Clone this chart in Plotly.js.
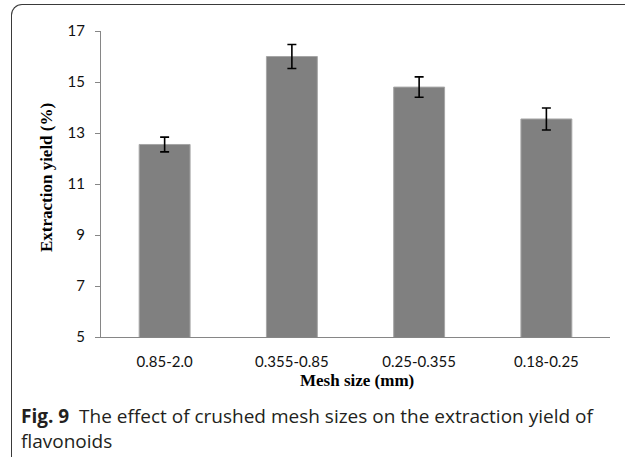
<!DOCTYPE html>
<html>
<head>
<meta charset="utf-8">
<script src="https://cdn.plot.ly/plotly-3.0.1.min.js"></script>
<style>
html,body{margin:0;padding:0;background:#fff;}
#wrap{position:relative;width:625px;height:457px;overflow:hidden;}
#frame{position:absolute;left:11px;top:3.5px;width:700px;height:500px;border-top:1.5px solid #3a3a3a;border-left:1.5px solid #3a3a3a;border-top-left-radius:11px;pointer-events:none;}
#chart{position:absolute;left:0;top:0;width:625px;height:457px;}
</style>
</head>
<body>
<div id="wrap">
<div id="chart"></div>
<div id="frame"></div>
</div>
<script>
const categories = ["0.85-2.0", "0.355-0.85", "0.25-0.355", "0.18-0.25"];
const yieldValues = [12.55, 16.0, 14.8, 13.55];
const yieldErrors = [0.29, 0.47, 0.40, 0.43];
const yTicks = [5, 7, 9, 11, 13, 15, 17];

const L = 101, R = 610.5, T = 31, B = 337;
const px = x => (x - L) / (R - L);
const py = y => (B - y) / (B - T);

const trace = {
  type: 'bar',
  x: categories,
  y: yieldValues,
  marker: {color: '#808080', line: {color: '#a6a6a6', width: 1}},
  error_y: {type: 'data', array: yieldErrors, visible: true, color: '#000000', thickness: 1.6, width: 4.5},
  hoverinfo: 'none'
};

const layout = {
  width: 625, height: 457,
  margin: {l: L, r: 625 - R, t: T, b: 457 - B, pad: 0},
  paper_bgcolor: '#ffffff', plot_bgcolor: '#ffffff',
  showlegend: false,
  bargap: 0.6,
  xaxis: {
    type: 'category', range: [-0.5, 3.5],
    showline: true, linecolor: '#868686', linewidth: 1,
    ticks: '', showgrid: false, zeroline: false,
    tickfont: {family: 'Lato, "Open Sans", sans-serif', size: 15, color: '#111'},
    ticklabelstandoff: 11
  },
  yaxis: {
    range: [5, 17], tickvals: yTicks, ticktext: yTicks.map(String),
    showline: true, linecolor: '#868686', linewidth: 1,
    ticks: 'outside', ticklen: 5, tickcolor: '#868686',
    showgrid: false, zeroline: false,
    tickfont: {family: 'Lato, "Open Sans", sans-serif', size: 15, color: '#111'},
    ticklabelstandoff: 7
  },
  annotations: [
    {xref: 'paper', yref: 'paper', x: px(46), y: py(178), text: '<b>Extraction yield (%)</b>',
     textangle: -90, showarrow: false, xanchor: 'center', yanchor: 'middle',
     font: {family: '"Liberation Serif", "Times New Roman", serif', size: 17, color: '#000'}},
    {xref: 'paper', yref: 'paper', x: px(357), y: py(380), text: '<b>Mesh size (mm)</b>',
     showarrow: false, xanchor: 'center', yanchor: 'middle',
     font: {family: '"Liberation Serif", "Times New Roman", serif', size: 17, color: '#000'}},
    {xref: 'paper', yref: 'paper', x: px(19), y: py(416), text: '<b>Fig. 9</b>  The effect of crushed mesh sizes on the extraction yield of',
     showarrow: false, xanchor: 'left', yanchor: 'middle', align: 'left',
     font: {family: '"Open Sans", "Noto Sans", sans-serif', size: 19, color: '#231f20'}},
    {xref: 'paper', yref: 'paper', x: px(19), y: py(441), text: 'flavonoids',
     showarrow: false, xanchor: 'left', yanchor: 'middle', align: 'left',
     font: {family: '"Open Sans", "Noto Sans", sans-serif', size: 19, color: '#231f20'}}
  ]
};

Plotly.newPlot('chart', [trace], layout, {displayModeBar: false, staticPlot: true});
</script>
</body>
</html>
